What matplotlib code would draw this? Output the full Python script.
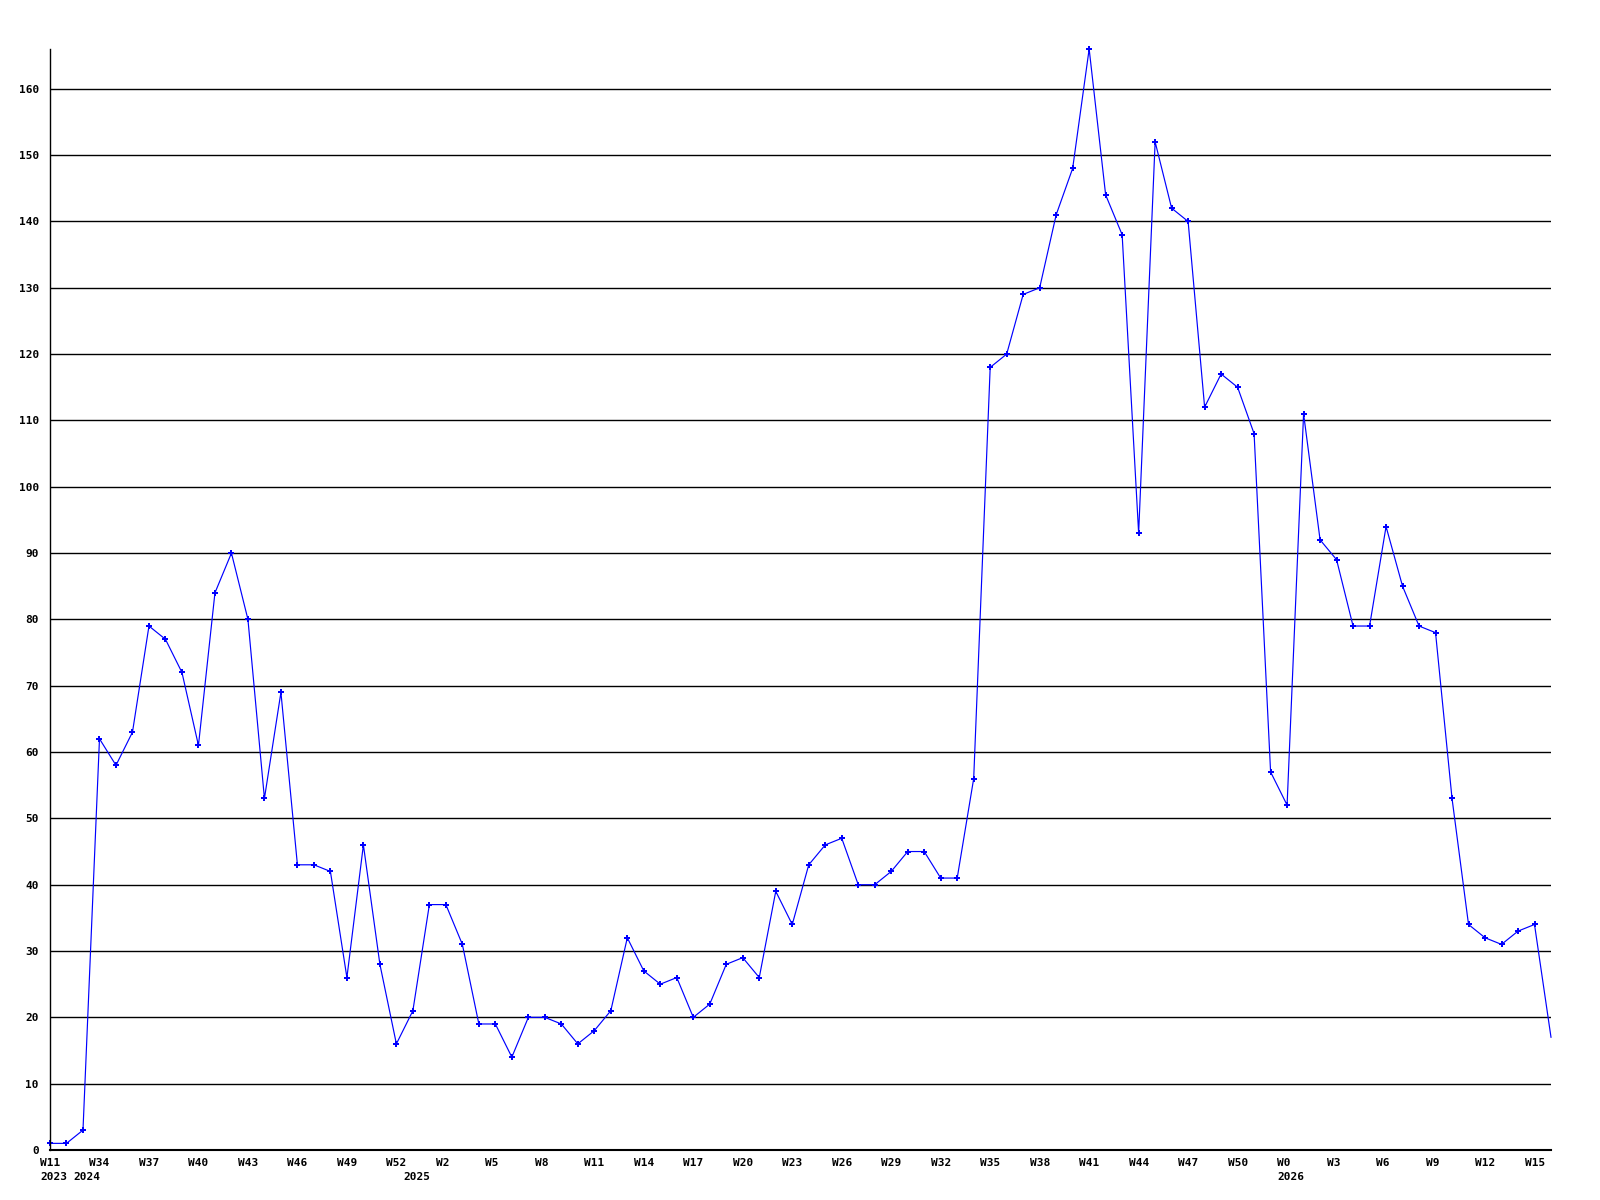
import matplotlib
matplotlib.use('Agg')
import matplotlib.pyplot as plt
import matplotlib.transforms as mtransforms

# week numbers for every point (2023: W11, W12 / 2024: W33..W52 / 2025: W0..W52 / 2026: W0..W16)
weeks = [11, 12] + list(range(33, 53)) + list(range(0, 53)) + list(range(0, 17))

values = [1, 1, 3, 62, 58, 63, 79, 77, 72, 61,
          84, 90, 80, 53, 69, 43, 43, 42, 26, 46,
          28, 16, 21, 37, 37, 31, 19, 19, 14, 20,
          20, 19, 16, 18, 21, 32, 27, 25, 26, 20,
          22, 28, 29, 26, 39, 34, 43, 46, 47, 40,
          40, 42, 45, 45, 41, 41, 56, 118, 120, 129,
          130, 141, 148, 166, 144, 138, 93, 152, 142, 140,
          112, 117, 115, 108, 57, 52, 111, 92, 89, 79,
          79, 94, 85, 79, 78, 53, 34, 32, 31, 33,
          34, 17]

# year captions and the point index where each year starts
years = ['2023', '2024', '2025', '2026']
year_idx = [0, 2, 22, 75]

yticks = list(range(0, 161, 10))

fig = plt.figure(figsize=(16, 12), dpi=100)
ax = fig.add_axes([50/1600, 1 - 1150/1200, 1501/1600, 1101/1200])

x = list(range(len(values)))
# last point sits on the right edge and has no marker in the original
ax.plot(x, values, color='#0000ff', lw=0.85, marker='P', ms=4.5,
        mec='#0000ff', mfc='#0000ff', mew=0, markevery=x[:-1], clip_on=False)

for v in yticks[1:]:
    ax.axhline(v, color='black', lw=1, zorder=0)

ax.set_xlim(0, len(values) - 1)
ax.set_ylim(0, max(values))

for s in ['top', 'right']:
    ax.spines[s].set_visible(False)
ax.spines['left'].set_linewidth(1)
ax.spines['bottom'].set_linewidth(1.5)

font = dict(family='DejaVu Sans Mono', weight='bold', size=8)

ax.set_yticks(yticks)
ax.set_yticklabels([str(v) for v in yticks], **font)
ax.tick_params(axis='y', length=0, pad=8)

tick_pos = x[::3]
ax.set_xticks(tick_pos)
ax.set_xticklabels(['W%d' % weeks[i] for i in tick_pos], **font, ha='left')
ax.tick_params(axis='x', length=0, pad=6)
shift = mtransforms.ScaledTranslation(-10/100, 0, fig.dpi_scale_trans)
for lbl in ax.get_xticklabels():
    lbl.set_transform(lbl.get_transform() + shift)

for yr, i in zip(years, year_idx):
    tr = ax.get_xaxis_transform() + mtransforms.ScaledTranslation(-10/100, -27/100, fig.dpi_scale_trans)
    ax.text(i, 0, yr, transform=tr, ha='left', va='center', **font)

fig.savefig('out.png', dpi=100)
